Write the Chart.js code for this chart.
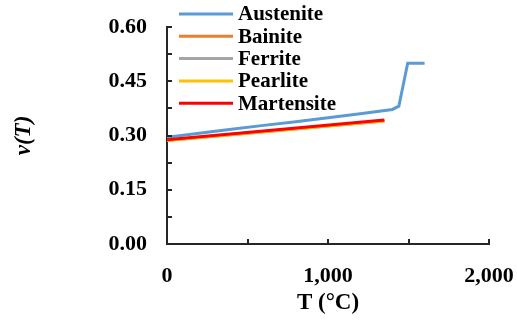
<!DOCTYPE html>
<html>
<head>
<meta charset="utf-8">
<script src="https://cdn.jsdelivr.net/npm/chart.js@4"></script>
<style>
  html, body { margin: 0; padding: 0; background: #fff; }
  #wrap { width: 517px; height: 329px; }
</style>
</head>
<body>
<div id="wrap"><canvas id="nuChart" width="517" height="329"></canvas></div>
<script>
// Poisson's ratio vs temperature for each phase
const austeniteT = [0, 200, 400, 600, 800, 1000, 1200, 1400, 1440, 1495, 1600];
const austeniteNu = [0.295, 0.306, 0.317, 0.328, 0.338, 0.349, 0.360, 0.372, 0.381, 0.500, 0.500];

const ferriticT = [0, 1350];
const bainiteNu = [0.287, 0.341];
const ferriteNu = [0.287, 0.341];
const pearliteNu = [0.286, 0.340];
const martensiteNu = [0.288, 0.343];

const seriesNames = ['Austenite', 'Bainite', 'Ferrite', 'Pearlite', 'Martensite'];
const seriesColors = ['#5B9BD5', '#ED7D31', '#A5A5A5', '#FFC000', '#FF0000'];

const xTickLabels = { 0: '0', 1000: '1,000', 2000: '2,000' };

const FONT = "'Liberation Serif', 'Times New Roman', serif";
const AXIS_COLOR = '#262626';

function pts(xs, ys) {
  return xs.map((x, i) => ({ x: x, y: ys[i] }));
}

const seriesData = [
  pts(austeniteT, austeniteNu),
  pts(ferriticT, bainiteNu),
  pts(ferriticT, ferriteNu),
  pts(ferriticT, pearliteNu),
  pts(ferriticT, martensiteNu)
];

// draw order: red on top, blue behind it
const drawOrder = [5, 3, 4, 2, 1];

const datasets = seriesNames.map((name, i) => ({
  label: name,
  data: seriesData[i],
  borderColor: seriesColors[i],
  backgroundColor: seriesColors[i],
  borderWidth: 3,
  pointRadius: 0,
  tension: 0,
  fill: false,
  order: drawOrder[i]
}));

// inward tick marks on both axes
const innerTicks = {
  id: 'innerTicks',
  afterDraw(chart) {
    const ctx = chart.ctx;
    const xs = chart.scales.x, ys = chart.scales.y;
    const area = chart.chartArea;
    ctx.save();
    ctx.strokeStyle = AXIS_COLOR;
    ctx.lineWidth = 2;
    ctx.beginPath();
    for (let v = 0.075; v <= 0.6001; v += 0.075) {
      const py = Math.round(ys.getPixelForValue(v));
      ctx.moveTo(area.left, py);
      ctx.lineTo(area.left + 5, py);
    }
    for (let t = 500; t <= 2000; t += 500) {
      const px = Math.round(xs.getPixelForValue(t));
      ctx.moveTo(px, area.bottom);
      ctx.lineTo(px, area.bottom - 5);
    }
    ctx.stroke();
    ctx.restore();
  }
};

// legend drawn inside the plot, top left
const innerLegend = {
  id: 'innerLegend',
  afterDatasetsDraw(chart) {
    const ctx = chart.ctx;
    const x0 = 179, lineLen = 54, y0 = 14, rowH = 22.3;
    ctx.save();
    ctx.font = "bold 21px " + FONT;
    ctx.textBaseline = 'middle';
    ctx.fillStyle = '#000';
    chart.data.datasets.forEach((ds, i) => {
      const y = y0 + i * rowH;
      ctx.strokeStyle = ds.borderColor;
      ctx.lineWidth = 3;
      ctx.beginPath();
      ctx.moveTo(x0, y);
      ctx.lineTo(x0 + lineLen, y);
      ctx.stroke();
      ctx.fillText(ds.label, x0 + lineLen + 5, y + 1);
    });
    ctx.restore();
  }
};

new Chart(document.getElementById('nuChart'), {
  type: 'line',
  data: { datasets: datasets },
  options: {
    responsive: false,
    animation: false,
    layout: { padding: { top: 27, right: 28, left: 0, bottom: 0 } },
    plugins: {
      legend: { display: false },
      tooltip: { enabled: false }
    },
    scales: {
      x: {
        type: 'linear',
        min: 0,
        max: 2000,
        afterFit(scale) {
          scale.height = 85;
          scale.paddingLeft = 0;
          scale.paddingRight = 0;
        },
        border: { display: true, color: AXIS_COLOR, width: 2 },
        grid: { display: false, drawTicks: false },
        ticks: {
          stepSize: 500,
          padding: 19,
          color: '#000',
          maxRotation: 0,
          font: { family: FONT, size: 22, weight: 'bold' },
          callback: v => (xTickLabels[v] !== undefined ? xTickLabels[v] : '')
        },
        title: {
          display: true,
          text: 'T (°C)',
          color: '#000',
          padding: { top: 0, bottom: 12 },
          font: { family: FONT, size: 23, weight: 'bold' }
        }
      },
      y: {
        min: 0,
        max: 0.6,
        afterFit(scale) {
          scale.width = 167;
          scale.paddingTop = 0;
          scale.paddingBottom = 0;
        },
        border: { display: true, color: AXIS_COLOR, width: 2 },
        grid: { display: false, drawTicks: false },
        ticks: {
          stepSize: 0.075,
          padding: 20,
          color: '#000',
          font: { family: FONT, size: 22, weight: 'bold' },
          callback: v => {
            const k = Math.round(v / 0.075);
            return k % 2 === 0 ? (k * 0.075).toFixed(2) : '';
          }
        },
        title: {
          display: true,
          text: 'ν(T)',
          color: '#000',
          padding: { top: 10, bottom: 0 },
          font: { family: FONT, size: 23, weight: 'bold', style: 'italic' }
        }
      }
    }
  },
  plugins: [innerTicks, innerLegend]
});
</script>
</body>
</html>
